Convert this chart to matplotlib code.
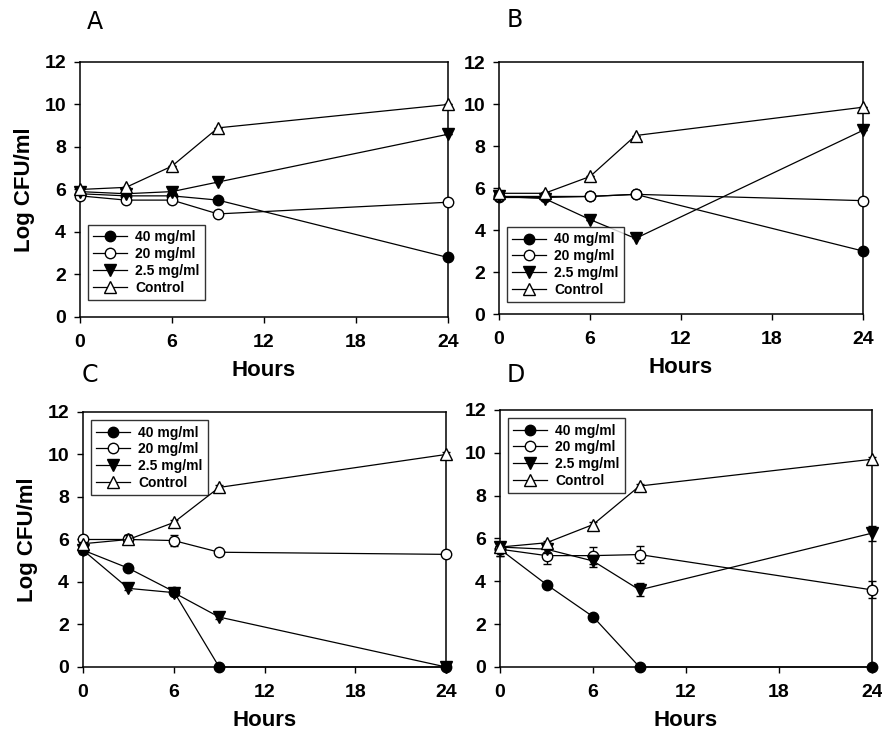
import numpy as np
import matplotlib
matplotlib.use('Agg')
import matplotlib.pyplot as plt

plt.rcParams['font.family'] = ['Liberation Sans', 'DejaVu Sans']
plt.rcParams['font.weight'] = 'bold'

# sampling times (hours)
hours = [0, 3, 6, 9, 24]
labels = ['40 mg/ml', '20 mg/ml', '2.5 mg/ml', 'Control']

# panel A
a_40 = [5.8, 5.7, 5.7, 5.5, 2.8]
a_20 = [5.7, 5.5, 5.5, 4.85, 5.4]
a_25 = [5.9, 5.8, 5.9, 6.35, 8.6]
a_ctrl = [6.0, 6.1, 7.1, 8.9, 10.0]

# panel B
b_40 = [5.55, 5.55, 5.6, 5.7, 3.0]
b_20 = [5.6, 5.6, 5.6, 5.7, 5.4]
b_25 = [5.6, 5.5, 4.5, 3.6, 8.75]
b_ctrl = [5.75, 5.75, 6.55, 8.5, 9.85]

# panel C
c_40 = [5.5, 4.65, 3.55, 0.0, 0.0]
c_20 = [6.0, 6.0, 5.95, 5.4, 5.3]
c_25 = [5.5, 3.7, 3.5, 2.35, 0.0]
c_ctrl = [5.8, 6.0, 6.8, 8.45, 10.0]
c_err_40 = [0.1, 0.1, 0.1, 0.0, 0.0]
c_err_20 = [0.15, 0.2, 0.25, 0.15, 0.1]
c_err_25 = [0.2, 0.1, 0.1, 0.1, 0.0]
c_err_ctrl = [0.1, 0.2, 0.1, 0.1, 0.1]

# panel D
d_40 = [5.5, 3.85, 2.35, 0.0, 0.0]
d_20 = [5.5, 5.2, 5.2, 5.25, 3.6]
d_25 = [5.6, 5.5, 4.95, 3.6, 6.25]
d_ctrl = [5.6, 5.8, 6.65, 8.45, 9.7]
d_err_40 = [0.3, 0.1, 0.1, 0.0, 0.0]
d_err_20 = [0.3, 0.4, 0.4, 0.4, 0.4]
d_err_25 = [0.2, 0.2, 0.3, 0.3, 0.35]
d_err_ctrl = [0.2, 0.1, 0.1, 0.1, 0.1]

zero = [0, 0, 0, 0, 0]
panels = [
    ('A', [a_40, a_20, a_25, a_ctrl], [zero] * 4, [0.0907, 0.5699, 0.4172, 0.346], 'lower left', (0.01, 0.05)),
    ('B', [b_40, b_20, b_25, b_ctrl], [zero] * 4, [0.5658, 0.5739, 0.4127, 0.3419], 'lower left', (0.01, 0.03)),
    ('C', [c_40, c_20, c_25, c_ctrl], [c_err_40, c_err_20, c_err_25, c_err_ctrl],
     [0.0941, 0.095, 0.4116, 0.346], 'upper left', (0.01, 0.985)),
    ('D', [d_40, d_20, d_25, d_ctrl], [d_err_40, d_err_20, d_err_25, d_err_ctrl],
     [0.5669, 0.095, 0.4218, 0.3487], 'upper left', (0.01, 0.985)),
]

markers = ['o', 'o', 'v', '^']
faces = ['black', 'white', 'black', 'white']
sizes = [7.5, 7.5, 8, 8.5]
letter_pos = {'A': (95, 22), 'B': (515, 20), 'C': (90, 375), 'D': (516, 375)}

fig = plt.figure(figsize=(8.82, 7.37), dpi=100)

for name, series, errs, rect, loc, anchor in panels:
    ax = fig.add_axes(rect)
    for i in range(4):
        # error bars first, then the line + markers on top
        ax.errorbar(hours, series[i], yerr=errs[i], fmt='none', ecolor='black',
                    elinewidth=0.9, capsize=3, clip_on=False, zorder=2 + i)
        ax.plot(hours, series[i], color='black', lw=0.9, marker=markers[i],
                ms=sizes[i], mfc=faces[i], mec='black', mew=1.0,
                label=labels[i], clip_on=False, zorder=3 + i)
    ax.set_xlim(0, 24)
    ax.set_ylim(0, 12)
    ax.set_xticks([0, 6, 12, 18, 24])
    ax.set_yticks([0, 2, 4, 6, 8, 10, 12])
    ax.tick_params(direction='out', length=4, width=1, labelsize=14)
    ax.tick_params(axis='x', pad=8)
    ax.tick_params(axis='y', pad=6)
    for lab in ax.get_xticklabels() + ax.get_yticklabels():
        lab.set_fontweight('bold')
    for sp in ax.spines.values():
        sp.set_linewidth(1.1)
    ax.set_xlabel('Hours', fontsize=16, fontweight='bold', labelpad=7)
    if name in ('A', 'C'):
        ax.set_ylabel('Log CFU/ml', fontsize=16, fontweight='bold', labelpad=7)
    leg = ax.legend(loc=loc, bbox_to_anchor=anchor, fontsize=10,
                    frameon=True, fancybox=False, edgecolor='black',
                    labelspacing=0.2, handlelength=2.4, handletextpad=0.6,
                    borderpad=0.4, borderaxespad=0.3)
    leg.get_frame().set_linewidth(1.0)
    for t in leg.get_texts():
        t.set_fontweight('bold')
    px, py = letter_pos[name]
    fig.text(px / 882, 1 - py / 737, name, fontsize=17, fontweight='normal',
             family='DejaVu Sans', ha='center', va='center')

fig.savefig('out.png', dpi=100)
